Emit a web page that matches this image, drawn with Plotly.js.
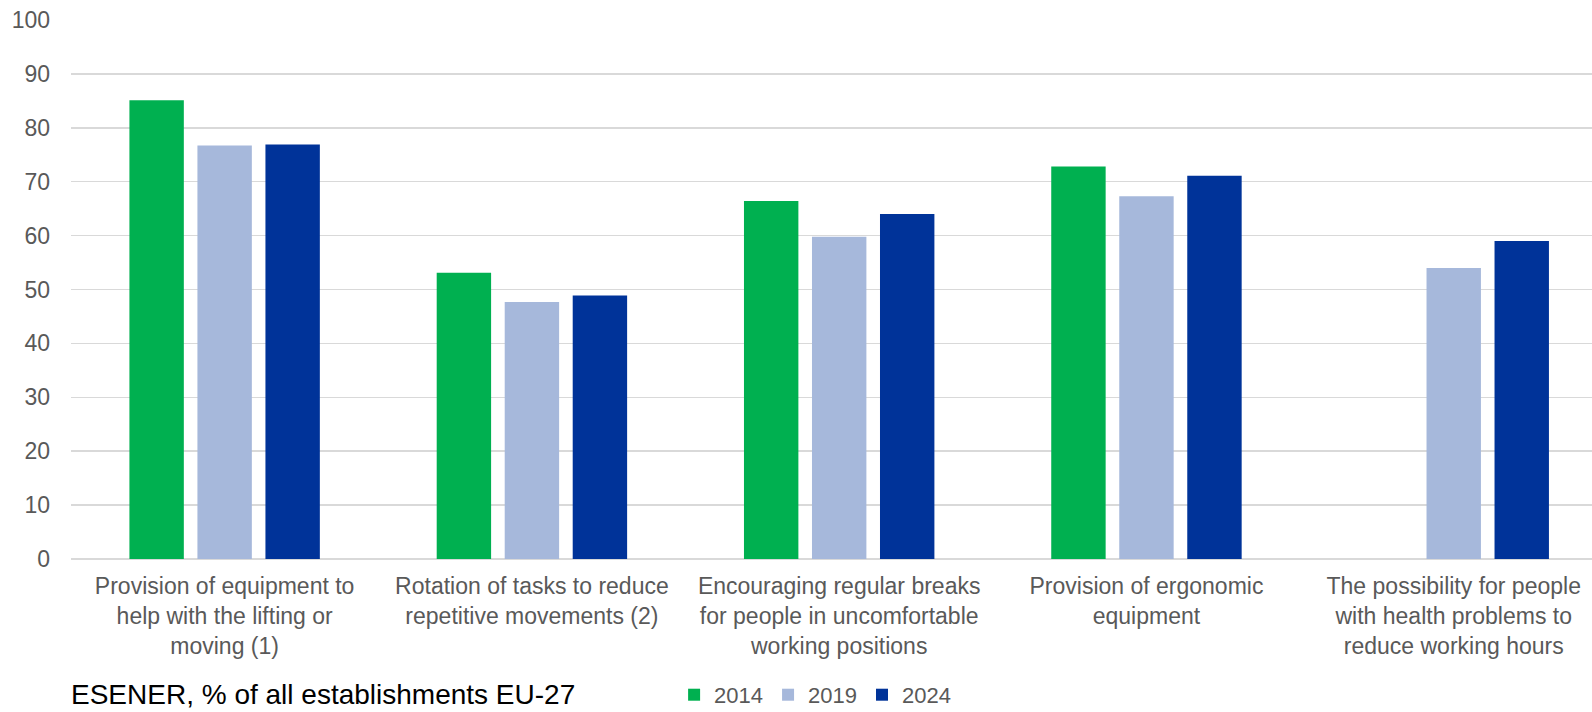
<!DOCTYPE html>
<html>
<head>
<meta charset="utf-8">
<script src="https://cdn.plot.ly/plotly-3.0.1.min.js"></script>
<style>html,body{margin:0;padding:0;background:#fff;}#chart{width:1592px;height:712px;}</style>
</head>
<body>
<div id="chart"></div>
<script>
const categories = [
  "Provision of equipment to<br>help with the lifting or<br>moving (1)",
  "Rotation of tasks to reduce<br>repetitive movements (2)",
  "Encouraging regular breaks<br>for people in uncomfortable<br>working positions",
  "Provision of ergonomic<br>equipment",
  "The possibility for people<br>with health problems to<br>reduce working hours"
];
const seriesNames = ["2014", "2019", "2024"];
const values2014 = [85.1, 53.1, 66.4, 72.8, null];
const values2019 = [76.7, 47.7, 59.8, 67.3, 54.0];
const values2024 = [76.9, 48.9, 64.0, 71.1, 59.0];
const yTicks = [0, 10, 20, 30, 40, 50, 60, 70, 80, 90, 100];
const sourceNote = "ESENER, % of all establishments EU-27";

const colors = ["#00B050", "#A6B8DB", "#003399"];
const allValues = [values2014, values2019, values2024];

const traces = allValues.map((vals, i) => ({
  type: "bar",
  name: seriesNames[i],
  x: categories,
  y: vals,
  marker: { color: colors[i] },
  hoverinfo: "x+y+name"
}));

const layout = {
  width: 1592,
  height: 712,
  margin: { l: 71, r: 0, t: 20, b: 153, autoexpand: false },
  paper_bgcolor: "#ffffff",
  plot_bgcolor: "#ffffff",
  barmode: "group",
  bargap: 0.336,
  bargroupgap: 0.2,
  font: { family: "Liberation Sans, Arial, sans-serif", color: "#595959" },
  xaxis: {
    type: "category",
    range: [-0.5, 4.45],
    showgrid: false,
    showline: false,
    zeroline: false,
    ticks: "",
    tickangle: 0,
    tickfont: { size: 23, color: "#595959" },
    ticklabelstandoff: 11,
    automargin: false,
    fixedrange: true
  },
  yaxis: {
    range: [0, 100],
    tickvals: yTicks,
    ticktext: yTicks.map(String),
    showgrid: true,
    gridcolor: "#d9d9d9",
    gridwidth: 1.5,
    zeroline: true,
    zerolinecolor: "#d9d9d9",
    zerolinewidth: 2,
    showline: false,
    ticks: "",
    tickfont: { size: 23, color: "#595959" },
    ticklabelstandoff: 20,
    automargin: false,
    fixedrange: true
  },
  showlegend: true,
  legend: {
    orientation: "h",
    xref: "container",
    x: 0.512,
    xanchor: "center",
    yref: "container",
    y: 0.024,
    yanchor: "middle",
    font: { size: 22, color: "#595959" },
    itemwidth: 30,
    traceorder: "normal"
  },
  annotations: [{
    text: sourceNote,
    xref: "paper",
    yref: "paper",
    x: 0,
    xanchor: "left",
    xshift: -2,
    y: -0.2835,
    yanchor: "bottom",
    showarrow: false,
    font: { size: 28, color: "#000000", family: "Liberation Sans, Arial, sans-serif" }
  }]
};

Plotly.newPlot("chart", traces, layout, { displayModeBar: false, staticPlot: true });
</script>
</body>
</html>
